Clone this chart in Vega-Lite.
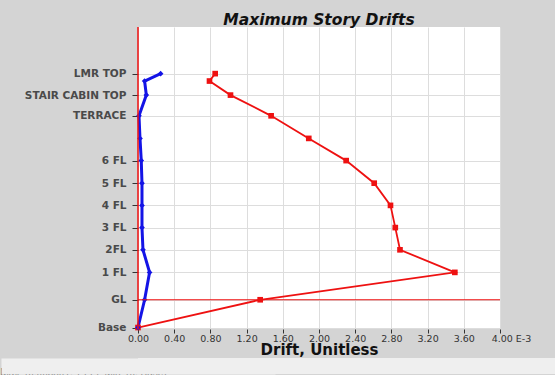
{
  "$schema": "https://vega.github.io/schema/vega-lite/v6.json",
  "background": "#d4d4d4",
  "padding": {"left": 0, "top": 12, "right": 0, "bottom": 0},
  "spacing": 0,
  "config": {"view": {"stroke": null}, "font": "DejaVu Sans"},
  "datasets": {
    "drifts": [
      {"series": "X", "story": "Base", "elev": 0, "drift": 0},
      {"series": "X", "story": "GL", "elev": 3.75, "drift": 1.35},
      {"series": "X", "story": "1 FL", "elev": 7.45, "drift": 3.501},
      {"series": "X", "story": "2FL", "elev": 10.5, "drift": 2.895},
      {"series": "X", "story": "3 FL", "elev": 13.5, "drift": 2.843},
      {"series": "X", "story": "4 FL", "elev": 16.5, "drift": 2.79},
      {"series": "X", "story": "5 FL", "elev": 19.5, "drift": 2.61},
      {"series": "X", "story": "6 FL", "elev": 22.55, "drift": 2.3},
      {"series": "X", "story": "7 FL", "elev": 25.55, "drift": 1.887},
      {"series": "X", "story": "TERRACE", "elev": 28.6, "drift": 1.471},
      {"series": "X", "story": "STAIR CABIN TOP", "elev": 31.4, "drift": 1.022},
      {"series": "X", "story": "LMR", "elev": 33.3, "drift": 0.79},
      {"series": "X", "story": "LMR TOP", "elev": 34.3, "drift": 0.853},
      {"series": "Y", "story": "Base", "elev": 0, "drift": 0},
      {"series": "Y", "story": "GL", "elev": 3.75, "drift": 0.073},
      {"series": "Y", "story": "1 FL", "elev": 7.45, "drift": 0.128},
      {"series": "Y", "story": "2FL", "elev": 10.5, "drift": 0.055},
      {"series": "Y", "story": "3 FL", "elev": 13.5, "drift": 0.044},
      {"series": "Y", "story": "4 FL", "elev": 16.5, "drift": 0.044},
      {"series": "Y", "story": "5 FL", "elev": 19.5, "drift": 0.044},
      {"series": "Y", "story": "6 FL", "elev": 22.55, "drift": 0.036},
      {"series": "Y", "story": "7 FL", "elev": 25.55, "drift": 0.022},
      {"series": "Y", "story": "TERRACE", "elev": 28.6, "drift": 0.011},
      {"series": "Y", "story": "STAIR CABIN TOP", "elev": 31.4, "drift": 0.092},
      {"series": "Y", "story": "LMR", "elev": 33.3, "drift": 0.073},
      {"series": "Y", "story": "LMR TOP", "elev": 34.3, "drift": 0.25}
    ]
  },
  "vconcat": [
    {
      "width": 362,
      "height": 302,
      "view": {"fill": "white", "stroke": null},
      "title": {"text": "Maximum Story Drifts", "font": "DejaVu Sans", "fontSize": 15.5, "fontWeight": "bold", "fontStyle": "italic", "color": "#111111", "anchor": "middle", "frame": "group", "offset": -2},
      "layer": [
        {
          "data": {"name": "drifts"},
          "mark": {"type": "line"},
          "encoding": {
            "x": {"field": "drift", "type": "quantitative",
              "scale": {"domain": [0, 4], "nice": false, "zero": false},
              "axis": {"values": [0, 0.4, 0.8, 1.2, 1.6, 2, 2.4, 2.8, 3.2, 3.6, 4], "tickCount": 30, "format": ".2f",
                "labelExpr": "datum.value == 4 ? '4.00 E-3' : datum.label",
                "labelOffset": {"condition": {"test": "datum.value == 4", "value": 11}, "value": 0},
                "labelFlush": false, "labelOverlap": false, "domain": false,
                "tickSize": 4, "tickColor": "#333333", "labelPadding": 0,
                "labelFont": "DejaVu Sans", "labelFontSize": 9.5, "labelColor": "#333333",
                "gridColor": "#dddddd",
                "title": "Drift, Unitless", "titleFont": "DejaVu Sans", "titleFontSize": 15, "titleFontWeight": "bold", "titleColor": "#111111", "titlePadding": 0}},
            "y": {"field": "elev", "type": "quantitative",
              "scale": {"domain": [-0.2, 40.6], "nice": false, "zero": false},
              "axis": {"values": [0, 3.75, 7.45, 10.5, 13.5, 16.5, 19.5, 22.55, 28.6, 31.4, 34.3], "tickCount": 30,
                "labelExpr": "datum.value < 1 ? 'Base' : datum.value < 5 ? 'GL' : datum.value < 9 ? '1 FL' : datum.value < 12 ? '2FL' : datum.value < 15 ? '3 FL' : datum.value < 18 ? '4 FL' : datum.value < 21 ? '5 FL' : datum.value < 24 ? '6 FL' : datum.value < 30 ? 'TERRACE' : datum.value < 33 ? 'STAIR CABIN TOP' : 'LMR TOP'",
                "labelFlush": false, "labelOverlap": false, "domain": false, "title": null,
                "tickSize": 6, "tickColor": "#333333", "labelPadding": 6,
                "labelFont": "DejaVu Sans", "labelFontSize": 10.5, "labelFontWeight": "bold", "labelColor": "#4a4a4a",
                "gridColor": "#dddddd", "minExtent": 137, "maxExtent": 137}},
            "color": {"field": "series", "type": "nominal", "scale": {"domain": ["X", "Y"], "range": ["#ee1111", "#1414e6"]}, "legend": null},
            "strokeWidth": {"field": "series", "type": "nominal", "scale": {"domain": ["X", "Y"], "range": [1.8, 3]}, "legend": null},
            "order": {"field": "elev", "type": "quantitative"}
          }
        },
        {
          "data": {"name": "drifts"},
          "mark": {"type": "point", "filled": true, "opacity": 1, "size": 32},
          "encoding": {
            "x": {"field": "drift", "type": "quantitative"},
            "y": {"field": "elev", "type": "quantitative"},
            "color": {"field": "series", "type": "nominal", "legend": null},
            "shape": {"field": "series", "type": "nominal", "scale": {"domain": ["X", "Y"], "range": ["square", "diamond"]}, "legend": null}
          }
        },
        {
          "data": {"values": [{"ref": "zero drift", "drift": 0}]},
          "mark": {"type": "rule", "color": "#ee1111", "strokeWidth": 1.5},
          "encoding": {"x": {"field": "drift", "type": "quantitative"}}
        },
        {
          "data": {"values": [{"ref": "GL", "elev": 3.75}]},
          "mark": {"type": "rule", "color": "#ee1111", "strokeWidth": 1},
          "encoding": {"y": {"field": "elev", "type": "quantitative"}}
        }
      ]
    },
    {
      "width": 418,
      "height": 16,
      "view": {"fill": "#efefef", "stroke": null},
      "data": {"values": [{"status": "Max: (0.003501, 1 FL);   Min: (0, Base)"}]},
      "mark": {"type": "rect", "color": "#efefef"},
      "encoding": {
        "y": {"field": "status", "type": "nominal", "scale": {"paddingInner": 0, "paddingOuter": 0},
          "axis": {"title": null, "ticks": false, "tickSize": 0, "grid": false,
            "labelAlign": "left", "labelBaseline": "top", "labelOffset": 2, "labelPadding": 138, "labelLimit": 500,
            "labelFont": "Liberation Sans", "labelFontSize": 10, "labelColor": "#333333",
            "domainColor": "#efefef", "domainWidth": 274, "domainCap": "butt",
            "minExtent": 137, "maxExtent": 137}}
      }
    }
  ]
}
